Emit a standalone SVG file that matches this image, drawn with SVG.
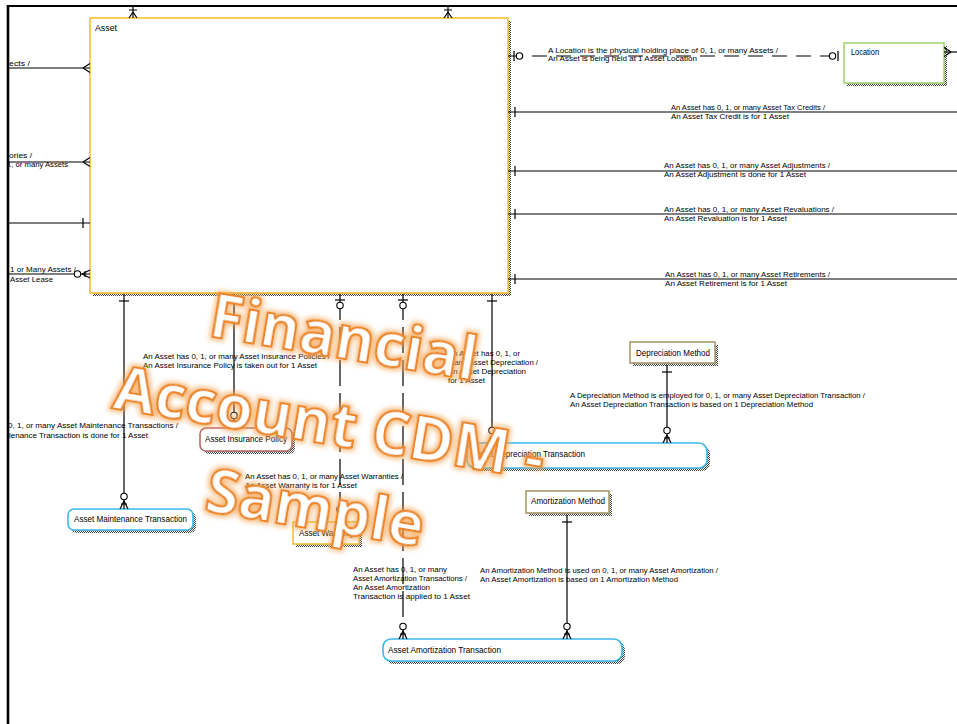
<svg xmlns="http://www.w3.org/2000/svg" width="957" height="724" viewBox="0 0 957 724">
<style>
.t{font-family:"Liberation Sans",Arial,sans-serif;font-size:8px;fill:#000}
.lb{font-family:"Liberation Sans",Arial,sans-serif;font-size:9px;fill:#000}
.c{fill:none;stroke:#000;stroke-width:1.2}
.dh{stroke-dasharray:15 9}
.dv{stroke-dasharray:26 7}
.box{fill:#fff;stroke-width:1.6}
.sh{fill:url(#dots)}
.ms{fill:none;stroke:#000;stroke-width:1.2}
.wm{font-family:"Open Sans","Noto Sans",sans-serif;font-size:60px;font-weight:700;fill:#fff;stroke:#ec8526;stroke-width:2.2;text-anchor:middle}
</style>
<defs>
<pattern id="dots" width="2" height="2" patternUnits="userSpaceOnUse"><rect width="1" height="1" fill="#444"/><rect x="1" y="1" width="1" height="1" fill="#444"/></pattern>
<marker id="one" markerUnits="userSpaceOnUse" orient="auto-start-reverse" overflow="visible" markerWidth="1" markerHeight="1">
<path class="ms" d="M-7,-5V5"/>
</marker>
<marker id="zeroOne" markerUnits="userSpaceOnUse" orient="auto-start-reverse" overflow="visible" markerWidth="1" markerHeight="1">
<path class="ms" d="M-6,-5V5"/><circle cx="-11.5" cy="0" r="3.2" fill="#fff" stroke="#000" stroke-width="1.1"/>
</marker>
<marker id="zeroMany" markerUnits="userSpaceOnUse" orient="auto-start-reverse" overflow="visible" markerWidth="1" markerHeight="1">
<path class="ms" d="M-8,0L0,-4M-8,0L0,4M-5,-3V3"/><circle cx="-12.5" cy="0" r="3.2" fill="#fff" stroke="#000" stroke-width="1.1"/>
</marker>
<marker id="many" markerUnits="userSpaceOnUse" orient="auto-start-reverse" overflow="visible" markerWidth="1" markerHeight="1">
<path class="ms" d="M-7,0L0,-4.5M-7,0L0,4.5"/>
</marker>
<marker id="oneMany" markerUnits="userSpaceOnUse" orient="auto-start-reverse" overflow="visible" markerWidth="1" markerHeight="1">
<path class="ms" d="M-6,0L0,-4M-6,0L0,4M-8,-4V4"/>
</marker>
<filter id="glow" x="-10%" y="-30%" width="120%" height="160%">
<feMorphology in="SourceAlpha" operator="dilate" radius="1.5" result="d"/>
<feGaussianBlur in="d" stdDeviation="2.5" result="b"/>
<feFlood flood-color="#f5a04c" flood-opacity="0.7"/>
<feComposite in2="b" operator="in" result="g"/>
<feMerge><feMergeNode in="g"/><feMergeNode in="SourceGraphic"/></feMerge>
</filter>
</defs>
<rect width="957" height="724" fill="#fff"/>

<g id="asset">
<rect class="sh" x="93" y="21" width="418" height="275"/>
<rect class="box" x="90" y="18" width="418" height="275" stroke="#f5c12c"/>
<text class="lb" x="95" y="31" textLength="22" lengthAdjust="spacingAndGlyphs">Asset</text>
</g>
<g id="location">
<rect class="sh" x="847" y="46" width="100" height="40"/>
<rect class="box" x="844" y="43" width="100" height="40" stroke="#a6d672"/>
<text class="lb" x="851" y="55" textLength="28" lengthAdjust="spacingAndGlyphs">Location</text>
</g>
<g id="asset-maintenance-transaction">
<rect class="sh" x="71" y="512" width="125" height="21" rx="6"/>
<rect class="box" x="68" y="509" width="125" height="21" rx="6" stroke="#3bb9ea"/>
<text class="lb" x="74" y="522" textLength="113" lengthAdjust="spacingAndGlyphs">Asset Maintenance Transaction</text>
</g>
<g id="asset-insurance-policy">
<rect class="sh" x="203" y="431" width="92" height="23" rx="6"/>
<rect class="box" x="200" y="428" width="92" height="23" rx="6" stroke="#b36a6a"/>
<text class="lb" x="205" y="442" textLength="82" lengthAdjust="spacingAndGlyphs">Asset Insurance Policy</text>
</g>
<g id="asset-warranty">
<rect class="sh" x="296" y="525" width="66" height="22"/>
<rect class="box" x="293" y="522" width="66" height="22" stroke="#f2c23a"/>
<text class="lb" x="299" y="536" textLength="55" lengthAdjust="spacingAndGlyphs">Asset Warranty</text>
</g>
<g id="asset-depreciation-transaction">
<rect class="sh" x="470" y="446" width="240" height="25" rx="8"/>
<rect class="box" x="467" y="443" width="240" height="25" rx="8" stroke="#3bb9ea"/>
<text class="lb" x="473" y="457" textLength="112" lengthAdjust="spacingAndGlyphs">Asset Depreciation Transaction</text>
</g>
<g id="depreciation-method">
<rect class="sh" x="633" y="345" width="85" height="21"/>
<rect class="box" x="630" y="342" width="85" height="21" stroke="#a99a6b" stroke-width="2"/>
<text class="lb" x="636" y="356" textLength="74" lengthAdjust="spacingAndGlyphs">Depreciation Method</text>
</g>
<g id="amortization-method">
<rect class="sh" x="529" y="494" width="83" height="22"/>
<rect class="box" x="526" y="491" width="83" height="22" stroke="#a99a6b" stroke-width="2"/>
<text class="lb" x="531" y="504" textLength="74" lengthAdjust="spacingAndGlyphs">Amortization Method</text>
</g>
<g id="asset-amortization-transaction">
<rect class="sh" x="386" y="642" width="239" height="22" rx="8"/>
<rect class="box" x="383" y="639" width="239" height="22" rx="8" stroke="#3bb9ea"/>
<text class="lb" x="388" y="653" textLength="113" lengthAdjust="spacingAndGlyphs">Asset Amortization Transaction</text>
</g>

<g id="connectors">
<path class="c" d="M133,6V18" marker-end="url(#oneMany)"/>
<path class="c" d="M448,6V18" marker-end="url(#oneMany)"/>
<path class="c" d="M8,68H90" marker-end="url(#many)"/>
<path class="c" d="M8,162H90" marker-end="url(#many)"/>
<path class="c" d="M8,223H90" marker-end="url(#one)"/>
<path class="c" d="M8,274H90" marker-end="url(#zeroMany)"/>
<path class="c dh" d="M508,56H844" marker-start="url(#zeroOne)" marker-end="url(#zeroOne)"/>
<path class="c" d="M944,52H957" marker-start="url(#many)"/>
<path class="c" d="M508,112H957" marker-start="url(#one)"/>
<path class="c" d="M508,171H957" marker-start="url(#one)"/>
<path class="c" d="M508,214H957" marker-start="url(#one)"/>
<path class="c" d="M508,279H957" marker-start="url(#one)"/>
<path class="c" d="M124,294V509" marker-start="url(#one)" marker-end="url(#zeroMany)"/>
<path class="c" d="M234,294V428" marker-start="url(#one)" marker-end="url(#zeroMany)"/>
<path class="c dv" d="M340,294V522" marker-start="url(#zeroOne)" marker-end="url(#zeroMany)"/>
<path class="c dv" d="M403,294V639" marker-start="url(#zeroOne)" marker-end="url(#zeroMany)"/>
<path class="c" d="M492,294V443" marker-start="url(#one)" marker-end="url(#zeroMany)"/>
<path class="c" d="M667,365V443" marker-start="url(#one)" marker-end="url(#zeroMany)"/>
<path class="c" d="M567,515V639" marker-start="url(#one)" marker-end="url(#zeroMany)"/>
</g>

<g id="labels">
<text class="t" x="9" y="66" textLength="21" lengthAdjust="spacingAndGlyphs">ects /</text>
<text class="t" x="9" y="158" textLength="23" lengthAdjust="spacingAndGlyphs">ories /</text>
<text class="t" x="7" y="167" textLength="61" lengthAdjust="spacingAndGlyphs">1, or many Assets</text>
<text class="t" x="10" y="272" textLength="66" lengthAdjust="spacingAndGlyphs">1 or Many Assets /</text>
<text class="t" x="10" y="282" textLength="43" lengthAdjust="spacingAndGlyphs">Asset Lease</text>
<text class="t" x="548" y="53" textLength="230" lengthAdjust="spacingAndGlyphs">A Location is the physical holding place of 0, 1, or many Assets /</text>
<text class="t" x="548" y="61" textLength="149" lengthAdjust="spacingAndGlyphs">An Asset is being held at 1 Asset Location</text>
<text class="t" x="671" y="110" textLength="154" lengthAdjust="spacingAndGlyphs">An Asset has 0, 1, or many Asset Tax Credits /</text>
<text class="t" x="671" y="119" textLength="118" lengthAdjust="spacingAndGlyphs">An Asset Tax Credit is for 1 Asset</text>
<text class="t" x="664" y="168" textLength="166" lengthAdjust="spacingAndGlyphs">An Asset has 0, 1, or many Asset Adjustments /</text>
<text class="t" x="664" y="177" textLength="142" lengthAdjust="spacingAndGlyphs">An Asset Adjustment is done for 1 Asset</text>
<text class="t" x="664" y="212" textLength="170" lengthAdjust="spacingAndGlyphs">An Asset has 0, 1, or many Asset Revaluations /</text>
<text class="t" x="664" y="221" textLength="123" lengthAdjust="spacingAndGlyphs">An Asset Revaluation is for 1 Asset</text>
<text class="t" x="665" y="277" textLength="165" lengthAdjust="spacingAndGlyphs">An Asset has 0, 1, or many Asset Retirements /</text>
<text class="t" x="665" y="286" textLength="122" lengthAdjust="spacingAndGlyphs">An Asset Retirement is for 1 Asset</text>
<text class="t" x="8" y="428" textLength="170" lengthAdjust="spacingAndGlyphs">0, 1, or many Asset Maintenance Transactions /</text>
<text class="t" x="9" y="438" textLength="139" lengthAdjust="spacingAndGlyphs">lenance Transaction is done for 1 Asset</text>
<text class="t" x="143" y="359" textLength="187" lengthAdjust="spacingAndGlyphs">An Asset has 0, 1, or many Asset Insurance Policies /</text>
<text class="t" x="143" y="368" textLength="174" lengthAdjust="spacingAndGlyphs">An Asset Insurance Policy is taken out for 1 Asset</text>
<text class="t" x="245" y="479" textLength="158" lengthAdjust="spacingAndGlyphs">An Asset has 0, 1, or many Asset Warranties /</text>
<text class="t" x="245" y="488" textLength="112" lengthAdjust="spacingAndGlyphs">An Asset Warranty is for 1 Asset</text>
<text class="t" x="448" y="356" textLength="72" lengthAdjust="spacingAndGlyphs">An Asset has 0, 1, or</text>
<text class="t" x="448" y="365" textLength="90" lengthAdjust="spacingAndGlyphs">many Asset Depreciation /</text>
<text class="t" x="448" y="374" textLength="78" lengthAdjust="spacingAndGlyphs">An Asset Depreciation</text>
<text class="t" x="448" y="383" textLength="37" lengthAdjust="spacingAndGlyphs">for 1 Asset</text>
<text class="t" x="570" y="398" textLength="295" lengthAdjust="spacingAndGlyphs">A Depreciation Method is employed for 0, 1, or many Asset Depreciation Transaction /</text>
<text class="t" x="570" y="407" textLength="243" lengthAdjust="spacingAndGlyphs">An Asset Depreciation Transaction is based on 1 Depreciation Method</text>
<text class="t" x="480" y="573" textLength="238" lengthAdjust="spacingAndGlyphs">An Amortization Method is used on 0, 1, or many Asset Amortization /</text>
<text class="t" x="480" y="582" textLength="198" lengthAdjust="spacingAndGlyphs">An Asset Amortization is based on 1 Amortization Method</text>
<text class="t" x="353" y="572" textLength="94" lengthAdjust="spacingAndGlyphs">An Asset has 0, 1, or many</text>
<text class="t" x="353" y="581" textLength="114" lengthAdjust="spacingAndGlyphs">Asset Amortization Transactions /</text>
<text class="t" x="353" y="590" textLength="77" lengthAdjust="spacingAndGlyphs">An Asset Amortization</text>
<text class="t" x="353" y="599" textLength="117" lengthAdjust="spacingAndGlyphs">Transaction is applied to 1 Asset</text>
</g>

<g id="frame">
<path d="M8,5V724" stroke="#000" stroke-width="2.6" fill="none"/>
<path d="M7,6H957" stroke="#000" stroke-width="2" fill="none"/>
</g>

<g id="watermark" transform="translate(326,444) rotate(9.5)" filter="url(#glow)">
<text class="wm" x="0" y="-87">Financial</text>
<text class="wm" x="0" y="0">Account CDM -</text>
<text class="wm" x="0" y="86">Sample</text>
</g>
</svg>
